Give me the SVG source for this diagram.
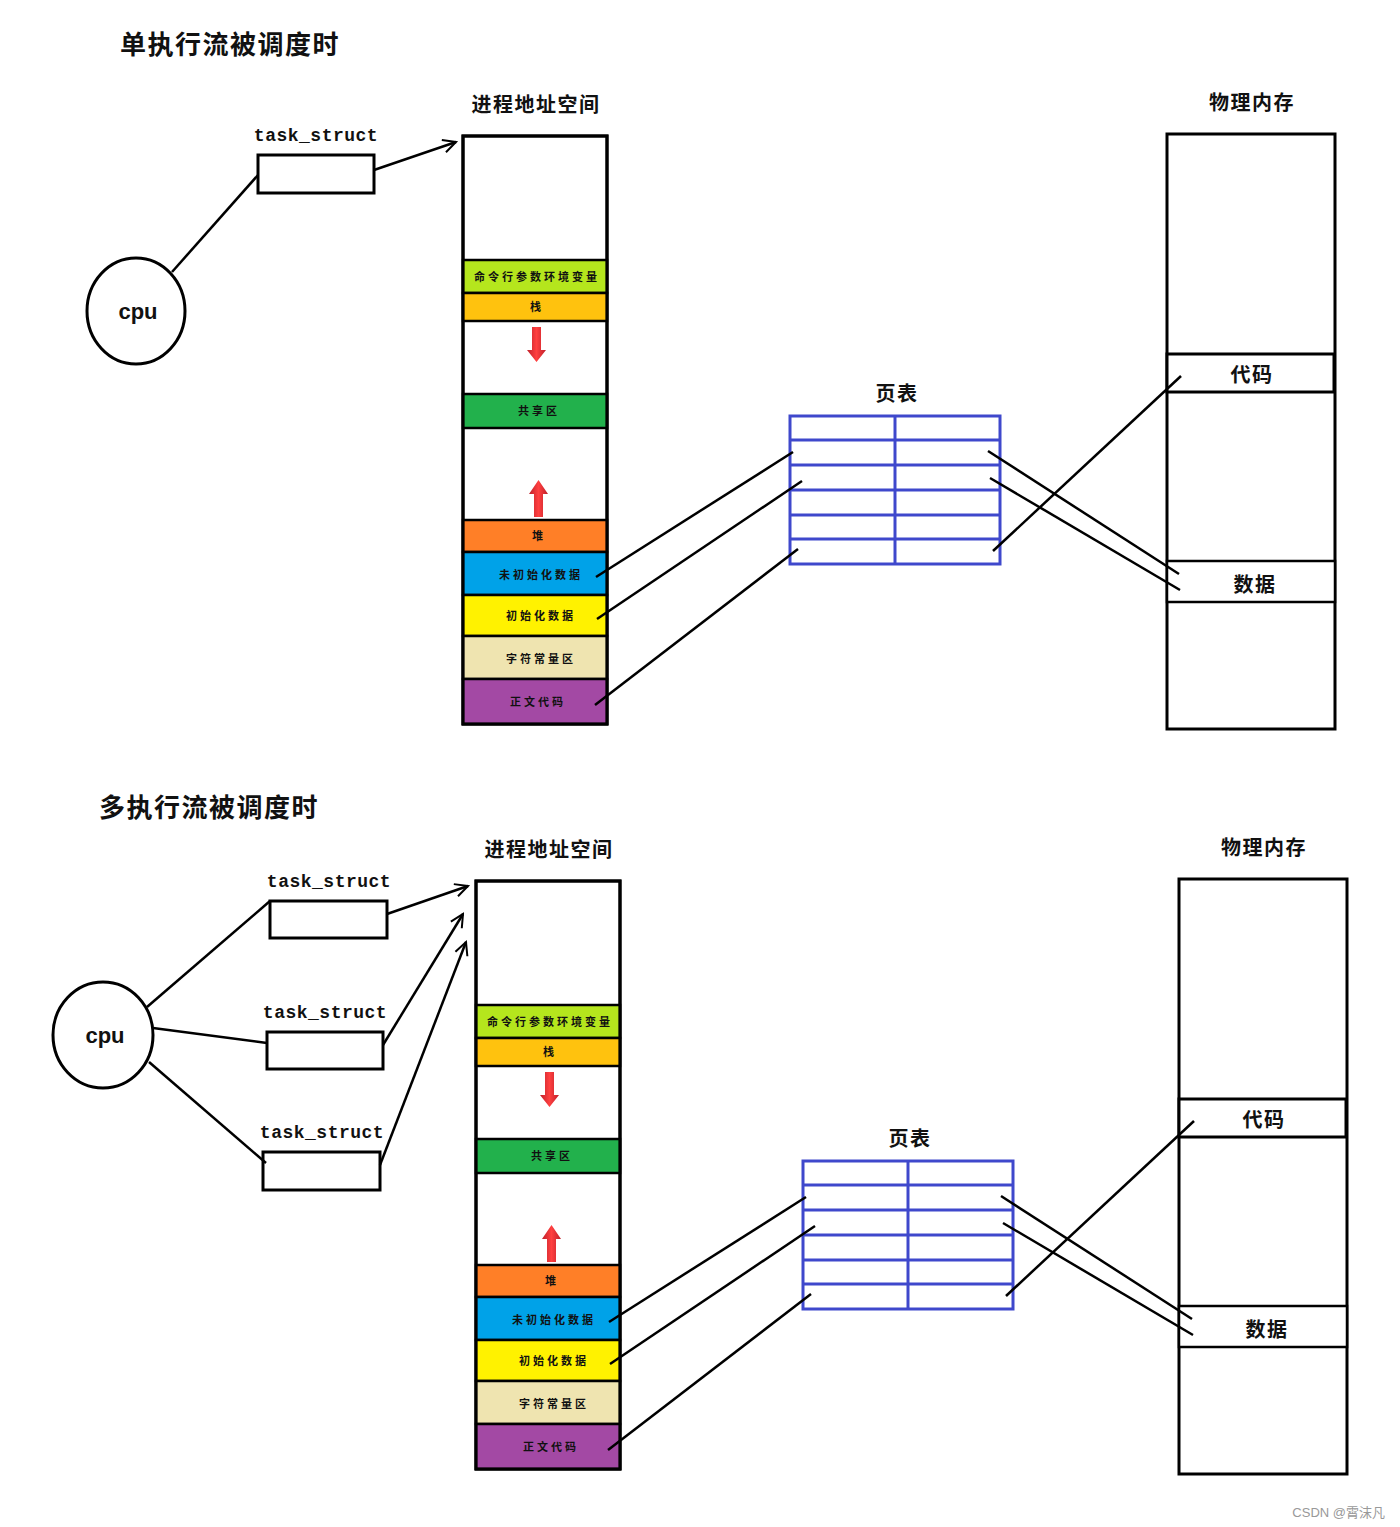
<svg xmlns="http://www.w3.org/2000/svg" width="1400" height="1527" viewBox="0 0 1400 1527">
<style>
.title{font-family:"Noto Sans CJK SC",sans-serif;font-weight:bold;font-size:26px;fill:#111;letter-spacing:1.5px}
.head{font-family:"Noto Sans CJK SC",sans-serif;font-weight:bold;font-size:20px;fill:#111;text-anchor:middle;letter-spacing:1.5px}
.ts{font-family:"Liberation Mono",monospace;font-weight:bold;font-size:18px;fill:#111;text-anchor:middle;letter-spacing:0.5px}
.cpu{font-family:"Liberation Sans","Noto Sans",sans-serif;font-weight:bold;font-size:22px;fill:#111;text-anchor:middle}
.seg{font-family:"Noto Sans CJK SC",serif;font-weight:bold;font-size:11px;fill:#111;text-anchor:middle;letter-spacing:3px}
.box{fill:#fff;stroke:#000;stroke-width:3}
.sg{stroke:#000;stroke-width:2.5}
.pt{fill:#fff;stroke:#3f48cc;stroke-width:3}
.ptl{stroke:#3f48cc;stroke-width:3}
.ln{stroke:#000;stroke-width:2.5;fill:none}
.arr{stroke:#000;stroke-width:2.5;fill:none;marker-end:url(#open)}
</style>
<defs>
<marker id="open" viewBox="0 0 20 20" refX="18" refY="10" markerWidth="16" markerHeight="16" markerUnits="userSpaceOnUse" orient="auto">
<path d="M2,2 L18,10 L2,18" fill="none" stroke="#000" stroke-width="2.5"/>
</marker>
<linearGradient id="red" x1="0" y1="0" x2="1" y2="0">
<stop offset="0" stop-color="#c0202a"/>
<stop offset="0.5" stop-color="#ff4040"/>
<stop offset="1" stop-color="#c0202a"/>
</linearGradient>
<g id="addrspace">
<rect x="463" y="136" width="144" height="588" class="box"/>
<rect x="463" y="260" width="144" height="33" fill="#b5e61d" class="sg"/>
<rect x="463" y="293" width="144" height="28" fill="#ffc20e" class="sg"/>
<rect x="463" y="394" width="144" height="34" fill="#22b14c" class="sg"/>
<rect x="463" y="520" width="144" height="32" fill="#ff7f27" class="sg"/>
<rect x="463" y="552" width="144" height="43" fill="#00a2e8" class="sg"/>
<rect x="463" y="595" width="144" height="41" fill="#fff200" class="sg"/>
<rect x="463" y="636" width="144" height="43" fill="#efe4b0" class="sg"/>
<rect x="463" y="679" width="144" height="45" fill="#a349a4" class="sg"/>
<rect x="463" y="136" width="144" height="588" fill="none" stroke="#000" stroke-width="3"/>
<text x="537" y="281" class="seg">命令行参数环境变量</text>
<text x="537" y="311" class="seg">栈</text>
<text x="539" y="415" class="seg">共享区</text>
<text x="539" y="540" class="seg">堆</text>
<text x="541" y="579" class="seg">未初始化数据</text>
<text x="541" y="620" class="seg">初始化数据</text>
<text x="541" y="663" class="seg">字符常量区</text>
<text x="538" y="706" class="seg">正文代码</text>
<path d="M532,327 H541 V350 H546 L536.5,362 L527,350 H532 Z" fill="url(#red)"/>
<path d="M534,517 H543 V494 H548 L538.5,480 L529,494 H534 Z" fill="url(#red)"/>
<text x="536" y="112" class="head">进程地址空间</text>
</g>
<g id="pagetable">
<rect x="790" y="416" width="210" height="148" class="pt"/>
<line x1="895" y1="416" x2="895" y2="564" class="ptl"/>
<line x1="790" y1="440" x2="1000" y2="440" class="ptl"/>
<line x1="790" y1="465" x2="1000" y2="465" class="ptl"/>
<line x1="790" y1="490" x2="1000" y2="490" class="ptl"/>
<line x1="790" y1="515" x2="1000" y2="515" class="ptl"/>
<line x1="790" y1="539" x2="1000" y2="539" class="ptl"/>
<text x="897" y="401" class="head">页表</text>
</g>
<g id="physmem">
<rect x="1167" y="134" width="168" height="595" class="box"/>
<rect x="1167" y="354" width="167" height="38" fill="#fff" stroke="#000" stroke-width="3"/>
<rect x="1167" y="561" width="168" height="41" fill="#fff" stroke="#000" stroke-width="2.5"/>
<text x="1252" y="382" class="head">代码</text>
<text x="1255" y="592" class="head">数据</text>
<text x="1252" y="110" class="head">物理内存</text>
</g>
<g id="maplines">
<line x1="596" y1="577" x2="793" y2="452" class="ln"/>
<line x1="597" y1="619" x2="802" y2="481" class="ln"/>
<line x1="595" y1="705" x2="798" y2="549" class="ln"/>
<line x1="988" y1="451" x2="1179" y2="574" class="ln"/>
<line x1="990" y1="478" x2="1180" y2="590" class="ln"/>
<line x1="993" y1="551" x2="1181" y2="376" class="ln"/>
</g>
</defs>

<text x="120" y="54" class="title">单执行流被调度时</text>
<g id="top-addrspace"><use href="#addrspace"/></g>
<g id="top-pagetable"><use href="#pagetable"/></g>
<g id="top-physmem"><use href="#physmem"/></g>
<g id="top-cpu">
<ellipse cx="136" cy="311" rx="49" ry="53" class="box"/>
<text x="138" y="319" class="cpu">cpu</text>
</g>
<g id="top-task">
<text x="316" y="141" class="ts">task_struct</text>
<rect x="258" y="155" width="116" height="38" class="box"/>
</g>
<g id="top-connectors">
<line x1="172" y1="272" x2="258" y2="175" class="ln"/>
<line x1="374" y1="170" x2="456" y2="142" class="arr"/>
<use href="#maplines"/>
</g>

<text x="99" y="817" class="title">多执行流被调度时</text>
<g id="bot-addrspace" transform="translate(13,745)"><use href="#addrspace"/></g>
<g id="bot-pagetable" transform="translate(13,745)"><use href="#pagetable"/></g>
<g id="bot-physmem" transform="translate(12,745)"><use href="#physmem"/></g>
<g id="bot-cpu">
<ellipse cx="103" cy="1035" rx="50" ry="53" class="box"/>
<text x="105" y="1043" class="cpu">cpu</text>
</g>
<g id="bot-task1">
<text x="329" y="887" class="ts">task_struct</text>
<rect x="270" y="901" width="117" height="37" class="box"/>
</g>
<g id="bot-task2">
<text x="325" y="1018" class="ts">task_struct</text>
<rect x="267" y="1032" width="116" height="37" class="box"/>
</g>
<g id="bot-task3">
<text x="322" y="1138" class="ts">task_struct</text>
<rect x="263" y="1152" width="117" height="38" class="box"/>
</g>
<g id="bot-connectors">
<line x1="147" y1="1007" x2="270" y2="901" class="ln"/>
<line x1="153" y1="1028" x2="267" y2="1043" class="ln"/>
<line x1="149" y1="1062" x2="266" y2="1163" class="ln"/>
<line x1="387" y1="914" x2="468" y2="886" class="arr"/>
<line x1="383" y1="1045" x2="463" y2="914" class="arr"/>
<line x1="380" y1="1165" x2="466" y2="942" class="arr"/>
<g transform="translate(13,745)"><use href="#maplines"/></g>
</g>
<text x="1385" y="1517" font-family="Liberation Sans,Noto Sans CJK SC,sans-serif" font-size="13" fill="#999" text-anchor="end">CSDN @霄沫凡</text>
</svg>
